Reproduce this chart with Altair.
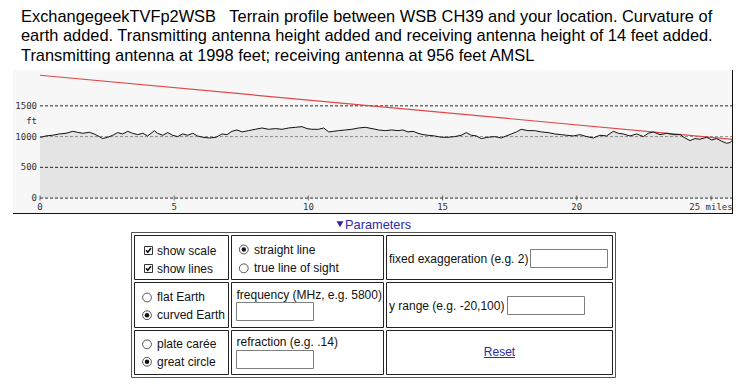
import altair as alt
import pandas as pd

# ---------------- chart values ----------------
TITLE_LINES = [
    "ExchangegeekTVFp2WSB\u00a0\u00a0 Terrain profile between WSB CH39 and your location. Curvature of",
    "earth added. Transmitting antenna height added and receiving antenna height of 14 feet added.",
    "Transmitting antenna at 1998 feet; receiving antenna at 956 feet AMSL",
]

MILES = [0.00, 0.04, 0.22, 0.47, 0.72, 0.97, 1.22, 1.40, 1.59, 1.84, 2.02, 2.21, 2.33, 2.52,
         2.71, 2.89, 3.08, 3.27, 3.45, 3.64, 3.83, 4.01, 4.14, 4.26, 4.38, 4.57, 4.76, 4.94,
         5.13, 5.32, 5.50, 5.69, 5.87, 6.06, 6.31, 6.56, 6.78, 6.97, 7.15, 7.34, 7.53, 7.77,
         8.02, 8.27, 8.52, 8.77, 9.02, 9.26, 9.51, 9.76, 9.95, 10.13, 10.38, 10.57, 10.76,
         10.94, 11.13, 11.38, 11.62, 11.87, 12.12, 12.37, 12.62, 12.87, 13.11, 13.34, 13.52,
         13.71, 13.90, 14.08, 14.27, 14.46, 14.70, 14.95, 15.20, 15.45, 15.70, 15.88, 16.07,
         16.26, 16.44, 16.69, 16.94, 17.19, 17.37, 17.56, 17.75, 17.93, 18.18, 18.43, 18.68,
         18.93, 19.18, 19.42, 19.62, 19.87, 20.12, 20.37, 20.62, 20.86, 21.11, 21.36, 21.55,
         21.73, 21.98, 22.23, 22.48, 22.66, 22.85, 23.10, 23.35, 23.60, 23.85, 24.03, 24.22,
         24.40, 24.59, 24.84, 25.03, 25.21, 25.40, 25.58, 25.71, 25.81]
FEET = [995, 989, 1011, 1022, 1043, 1054, 1086, 1070, 1054, 1070, 1043, 1000, 968, 989,
        1022, 1065, 1043, 1086, 1054, 1032, 1054, 1011, 1054, 1097, 1054, 1022, 1065, 1022,
        1000, 1043, 1022, 1054, 1011, 989, 978, 989, 1043, 1032, 1086, 1108, 1076, 1097,
        1119, 1140, 1119, 1130, 1119, 1140, 1151, 1162, 1130, 1119, 1119, 1140, 1076,
        1086, 1097, 1108, 1119, 1140, 1151, 1130, 1108, 1097, 1108, 1097, 1108,
        1076, 1086, 1054, 1032, 1022, 1011, 989, 989, 1000, 1022, 1065, 1022,
        1011, 968, 989, 1000, 978, 1011, 1043, 1076, 1119, 1097, 1097, 1076,
        1065, 1043, 1032, 1022, 1011, 1032, 1000, 978, 1022, 1011, 1086, 1054,
        1043, 1011, 1043, 1000, 1054, 1076, 1032, 1054, 1032, 1032, 978, 935,
        968, 957, 989, 946, 968, 924, 892, 903, 946]

LOS_MILES = [0.0, 25.81]
LOS_FEET = [1998, 956]

Y_TICKS = [0, 500, 1000, 1500]
Y_UNIT = "ft"
X_TICKS = [0, 5, 10, 15, 20, 25]
X_LABELS = ["0", "5", "10", "15", "20", "25 miles"]

PANEL_TITLE = "Parameters"
CHECKBOX_LABELS = ["show scale", "show lines"]
CHECKBOX_STATE = [True, True]
RADIO_LABELS = ["straight line", "true line of sight", "flat Earth", "curved Earth",
                "plate carée", "great circle"]
RADIO_STATE = [True, False, False, True, False, True]
FIELD_LABELS = ["fixed exaggeration (e.g. 2)", "frequency (MHz, e.g. 5800)",
                "y range (e.g. -20,100)", "refraction (e.g. .14)"]
RESET_LABEL = "Reset"

# ---------------- layout ----------------
W, H = 720, 144
X_DOMAIN = [-1.006, 25.82]
Y_DOMAIN = [-258.5, 2083.0]
PAD = {"left": 5, "top": 62, "right": 2, "bottom": 164}
# overlay drawn in page-pixel units (plot origin sits at page 13,70)
PAGE_X = alt.Scale(domain=[0, 745], range=[-13, 732], nice=False, zero=False)
PAGE_Y = alt.Scale(domain=[0, 388], range=[-70, 318], nice=False, zero=False)

TITLE_X, TITLE_Y0, TITLE_DY = 21, 21.5, 19.5
TITLE_SIZE = 16.4
FORM_OUTER = (131.5, 232.5, 615.5, 377.5)
FORM_COLS = [(134.5, 228.5), (231.5, 383.5), (386.5, 612.5)]
FORM_ROWS = [(235.5, 279.5), (282.5, 327.5), (330.5, 374.5)]
CHECKBOX_XY = [(148.5, 250.5), (148.5, 268.5)]
CHECKBOX_LABEL_XY = [(157, 250.5), (157, 268.5)]
RADIO_XY = [(243.8, 249.5), (243.8, 268.3), (147, 297.5), (147, 315.2), (147, 344.3), (147, 361.8)]
RADIO_LABEL_XY = [(254, 250), (254, 268.3), (157, 297.3), (157, 315), (157, 344.3), (157, 361.7)]
FIELD_LABEL_XY = [(389, 258.5), (236.5, 295), (389, 305.7), (236.5, 342.3)]
INPUT_BOXES = [(530.5, 249.5, 607.5, 267.5), (236.5, 302.5, 313.5, 320.5),
               (507.5, 296.5, 584.5, 314.5), (236.5, 350.5, 313.5, 368.5)]
RESET_XY = (499.5, 351.7)
RESET_UNDERLINE = (484, 515, 357.5)
PANEL_TITLE_XY = (345, 225)
PANEL_ARROW_XY = (340, 224.3)

LINK = "#2a2aa8"
FONT = "Liberation Sans"
MONO = "DejaVu Sans Mono"

# ---------------- terrain panel ----------------
xs = alt.Scale(domain=X_DOMAIN, nice=False, zero=False)
ys = alt.Scale(domain=Y_DOMAIN, nice=False, zero=False)


def X(f):
    return alt.X(f, scale=xs, axis=None)


def Y(f):
    return alt.Y(f, scale=ys, axis=None)


terrain_df = pd.DataFrame({"mi": MILES, "ft": FEET})
los_df = pd.DataFrame({"mi": LOS_MILES, "ft": LOS_FEET})
grid_df = pd.DataFrame({"v": Y_TICKS, "x0": [0] * len(Y_TICKS), "x1": [X_DOMAIN[1]] * len(Y_TICKS)})
ylab_df = pd.DataFrame({
    "v": Y_TICKS + [(Y_TICKS[-1] + Y_TICKS[-2]) / 2],
    "label": [str(v) for v in Y_TICKS] + [Y_UNIT],
})
xlab_df = pd.DataFrame({"t": X_TICKS, "label": X_LABELS, "zero": [0] * len(X_TICKS)})

area = alt.Chart(terrain_df).mark_area(color="#e4e4e4", opacity=1).encode(
    x=X("mi:Q"), y=Y("ft:Q"), y2=alt.datum(0))

gridrule = alt.Chart(grid_df).mark_rule(strokeDash=[3, 2], strokeWidth=1).encode(
    x=X("x0:Q"), x2="x1:Q", y=Y("v:Q"),
    color=alt.condition("datum.v == 1000", alt.value("#8c8c8c"), alt.value("#2a2a2a")))

ticks = alt.Chart(xlab_df).mark_tick(orient="vertical", size=5, thickness=1, color="#333").encode(
    x=X("t:Q"), y=Y("zero:Q"))

los_line = alt.Chart(los_df).mark_line(color="#e04848", strokeWidth=1.2).encode(
    x=X("mi:Q"), y=Y("ft:Q"))

terr_line = alt.Chart(terrain_df).mark_line(color="#111", strokeWidth=1).encode(
    x=X("mi:Q"), y=Y("ft:Q"))

ylab = alt.Chart(ylab_df).mark_text(align="right", baseline="middle", dx=-3, font=MONO,
                                    fontSize=9, color="#333").encode(
    x=alt.XDatum(0, scale=xs, axis=None), y=Y("v:Q"), text="label:N")

xlab = alt.Chart(xlab_df).mark_text(align="center", baseline="middle", dy=9, font=MONO,
                                    fontSize=9, color="#333").encode(
    x=X("t:Q"), y=Y("zero:Q"), text="label:N")

frame_b = alt.Chart(pd.DataFrame({"k": [0]})).mark_rule(color="#111", strokeWidth=1).encode(
    x=alt.value(0), x2=alt.value(W), y=alt.value(H - 0.5))
frame_r = alt.Chart(pd.DataFrame({"k": [0]})).mark_rule(color="#111", strokeWidth=1).encode(
    x=alt.value(W - 0.5), y=alt.value(0), y2=alt.value(H))

terrain_layer = alt.layer(area, gridrule, ticks, los_line, terr_line, ylab, xlab, frame_b, frame_r)

# ---------------- title and parameter form (page-pixel overlay) ----------------


def PX(f):
    return alt.X(f, scale=PAGE_X, axis=None)


def PY(f):
    return alt.Y(f, scale=PAGE_Y, axis=None)


title_df = pd.DataFrame({
    "text": TITLE_LINES,
    "px": [TITLE_X] * len(TITLE_LINES),
    "py": [TITLE_Y0 + i * TITLE_DY for i in range(len(TITLE_LINES))],
})
title = alt.Chart(title_df).mark_text(align="left", baseline="alphabetic", font=FONT,
                                      fontSize=TITLE_SIZE, color="#000").encode(
    x=PX("px:Q"), y=PY("py:Q"), text="text:N")

outer_df = pd.DataFrame([dict(zip(["x0", "y0", "x1", "y1"], FORM_OUTER))])
cells_df = pd.DataFrame([{"x0": c[0], "x1": c[1], "y0": r[0], "y1": r[1]}
                         for r in FORM_ROWS for c in FORM_COLS])
inputs_df = pd.DataFrame([dict(zip(["x0", "y0", "x1", "y1"], b)) for b in INPUT_BOXES])


def rects(df, stroke):
    return alt.Chart(df).mark_rect(fill="white", stroke=stroke, strokeWidth=1).encode(
        x=PX("x0:Q"), x2="x1:Q", y=PY("y0:Q"), y2="y1:Q")


outer = rects(outer_df, "#555")
cells = rects(cells_df, "#222")
inputs = rects(inputs_df, "#7f7f7f")

cb_df = pd.DataFrame({"px": [p[0] for p in CHECKBOX_XY], "py": [p[1] for p in CHECKBOX_XY],
                      "on": CHECKBOX_STATE})
checkbox = alt.Chart(cb_df).mark_point(shape="square", size=64, fill="white", stroke="#333",
                                       strokeWidth=1, opacity=1, filled=True).encode(
    x=PX("px:Q"), y=PY("py:Q"))
checks = alt.Chart(cb_df).transform_filter("datum.on").mark_point(
    shape="M-0.62,-0.05 L-0.18,0.45 L0.62,-0.55", size=64, filled=False, stroke="#111",
    strokeWidth=1.6, opacity=1).encode(x=PX("px:Q"), y=PY("py:Q"))

rd_df = pd.DataFrame({"px": [p[0] for p in RADIO_XY], "py": [p[1] for p in RADIO_XY],
                      "on": RADIO_STATE})
radios = alt.Chart(rd_df).mark_point(shape="circle", size=78, fill="white", stroke="#555",
                                     strokeWidth=1, opacity=1, filled=True).encode(
    x=PX("px:Q"), y=PY("py:Q"))
dots = alt.Chart(rd_df).transform_filter("datum.on").mark_point(
    shape="circle", size=20, fill="#111", strokeWidth=0, opacity=1, filled=True).encode(
    x=PX("px:Q"), y=PY("py:Q"))

labels_df = pd.DataFrame({
    "text": CHECKBOX_LABELS + RADIO_LABELS + FIELD_LABELS,
    "px": [p[0] for p in CHECKBOX_LABEL_XY + RADIO_LABEL_XY + FIELD_LABEL_XY],
    "py": [p[1] for p in CHECKBOX_LABEL_XY + RADIO_LABEL_XY + FIELD_LABEL_XY],
})
labels = alt.Chart(labels_df).mark_text(align="left", baseline="middle", font=FONT,
                                        fontSize=12, color="#111").encode(
    x=PX("px:Q"), y=PY("py:Q"), text="text:N")

reset_df = pd.DataFrame({"text": [RESET_LABEL], "px": [RESET_XY[0]], "py": [RESET_XY[1]],
                         "ux0": [RESET_UNDERLINE[0]], "ux1": [RESET_UNDERLINE[1]],
                         "uy": [RESET_UNDERLINE[2]]})
reset = alt.Chart(reset_df).mark_text(align="center", baseline="middle", font=FONT,
                                      fontSize=12, color=LINK).encode(
    x=PX("px:Q"), y=PY("py:Q"), text="text:N")
underline = alt.Chart(reset_df).mark_rule(color=LINK, strokeWidth=1).encode(
    x=PX("ux0:Q"), x2="ux1:Q", y=PY("uy:Q"))

pt_df = pd.DataFrame({"text": [PANEL_TITLE], "px": [PANEL_TITLE_XY[0]], "py": [PANEL_TITLE_XY[1]],
                      "ax": [PANEL_ARROW_XY[0]], "ay": [PANEL_ARROW_XY[1]]})
ptitle = alt.Chart(pt_df).mark_text(align="left", baseline="middle", font=FONT,
                                    fontSize=12.8, color=LINK).encode(
    x=PX("px:Q"), y=PY("py:Q"), text="text:N")
arrow = alt.Chart(pt_df).mark_point(shape="triangle-down", size=48, fill=LINK, strokeWidth=0,
                                    opacity=1, filled=True).encode(
    x=PX("ax:Q"), y=PY("ay:Q"))

overlay_layer = alt.layer(title, outer, cells, inputs, checkbox, checks, radios, dots,
                          labels, reset, underline, ptitle, arrow)

chart = (
    alt.layer(terrain_layer, overlay_layer)
    .resolve_scale(x="independent", y="independent")
    .properties(width=W, height=H, autosize=alt.AutoSizeParams(type="none"), padding=PAD,
                background="white")
    .configure_view(stroke=None, fill="#f7f7f7")
)

chart.save("out.html", embed_options={"renderer": "svg", "actions": False})
